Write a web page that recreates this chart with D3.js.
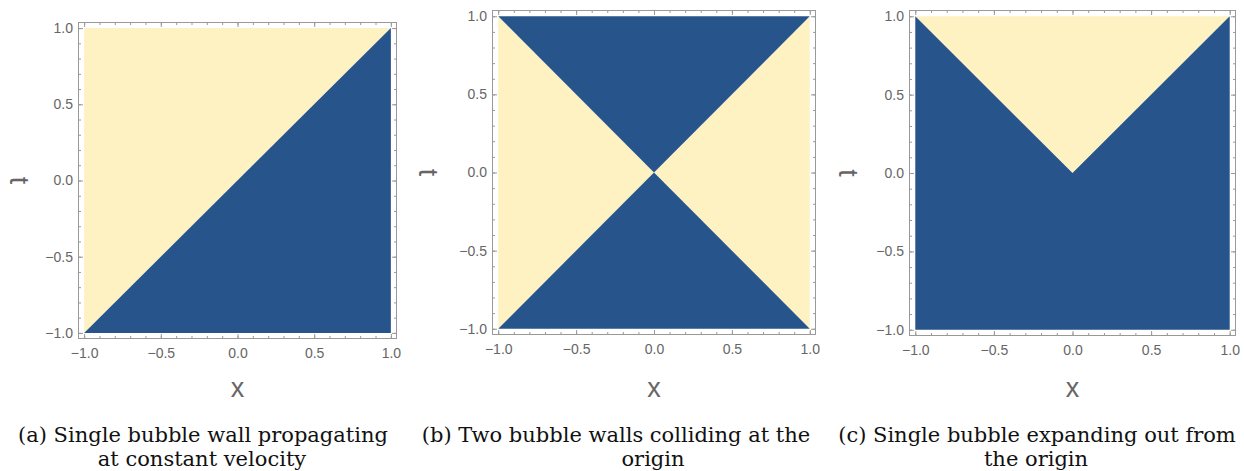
<!DOCTYPE html>
<html>
    <head>
        <meta charset="utf-8">
        <style>
            body { margin: 0; background: #fff; }
            svg { display: block; }
        </style>
    </head>
    <body>
        <svg></svg>

        <script src="https://cdnjs.cloudflare.com/ajax/libs/d3/7.8.5/d3.min.js"></script>
        <script>

            // values
            const majorTicks = [-1, -0.5, 0, 0.5, 1];
            const minorTicks = d3.range(-10, 11).map(d => d / 10);

            // regions in (x, t) coordinates, each tagged inside (blue) or outside (yellow)
            const regionsA = [
                { phase: 'out', pts: [[-1, -1], [-1, 1], [1, 1]] },
                { phase: 'in',  pts: [[-1, -1], [1, 1], [1, -1]] }
            ];
            const regionsB = [
                { phase: 'out', pts: [[-1, -1], [-1, 1], [0, 0]] },
                { phase: 'out', pts: [[1, 1], [1, -1], [0, 0]] },
                { phase: 'in',  pts: [[-1, 1], [1, 1], [0, 0]] },
                { phase: 'in',  pts: [[-1, -1], [1, -1], [0, 0]] }
            ];
            const regionsC = [
                { phase: 'out', pts: [[-1, 1], [1, 1], [0, 0]] },
                { phase: 'in',  pts: [[-1, 1], [0, 0], [1, 1], [1, -1], [-1, -1]] }
            ];

            const captionsA = ['(a) Single bubble wall propagating', 'at constant velocity'];
            const captionsB = ['(b) Two bubble walls colliding at the', 'origin'];
            const captionsC = ['(c) Single bubble expanding out from', 'the origin'];

            const width = 1244, height = 471;
            const colors = { out: '#fef2c2', in: '#27548a' };
            const frameColor = '#999';
            const labelColor = '#666';

            const svg = d3.select('svg').attr('width', width).attr('height', height);

            // frame boxes of each panel, plus where the captions sit
            const panels = [
                { regions: regionsA, captions: captionsA, left: 78,  right: 397,  top: 22, bottom: 339, tX: 19,  capX: [203, 202] },
                { regions: regionsB, captions: captionsB, left: 492, right: 816,  top: 10, bottom: 335, tX: 428, capX: [616, 653] },
                { regions: regionsC, captions: captionsC, left: 909, right: 1236, top: 10, bottom: 336, tX: 848, capX: [1037, 1036] }
            ];

            const fmt = d3.format('.1f');
            const pad = 1.04; // 2% plot range padding

            panels.forEach(drawPanel);

            function drawPanel(p) {
                const x = d3.scaleLinear().domain([-pad, pad]).range([p.left, p.right]);
                const y = d3.scaleLinear().domain([-pad, pad]).range([p.bottom, p.top]);
                const g = svg.append('g');

                const line = d3.line().x(d => x(d[0])).y(d => y(d[1]));
                g.selectAll('.region')
                    .data(p.regions)
                    .enter().append('path')
                    .attr('class', 'region')
                    .attr('d', d => line(d.pts) + 'Z')
                    .attr('fill', d => colors[d.phase]);

                // minor ticks on all four sides
                const minorStyle = sel => {
                    sel.select('.domain').remove();
                    sel.selectAll('line').attr('stroke', frameColor);
                };
                g.append('g').attr('transform', `translate(0,${p.bottom})`)
                    .call(d3.axisBottom(x).tickValues(minorTicks).tickSize(-3).tickSizeOuter(0).tickFormat(''))
                    .call(minorStyle);
                g.append('g').attr('transform', `translate(0,${p.top})`)
                    .call(d3.axisTop(x).tickValues(minorTicks).tickSize(-3).tickSizeOuter(0).tickFormat(''))
                    .call(minorStyle);
                g.append('g').attr('transform', `translate(${p.left},0)`)
                    .call(d3.axisLeft(y).tickValues(minorTicks).tickSize(-3).tickSizeOuter(0).tickFormat(''))
                    .call(minorStyle);
                g.append('g').attr('transform', `translate(${p.right},0)`)
                    .call(d3.axisRight(y).tickValues(minorTicks).tickSize(-3).tickSizeOuter(0).tickFormat(''))
                    .call(minorStyle);

                // major ticks
                const majorStyle = sel => {
                    sel.select('.domain').remove();
                    sel.selectAll('line').attr('stroke', frameColor);
                    sel.selectAll('text')
                        .attr('fill', labelColor)
                        .style('font-family', '"Liberation Sans", Arial, sans-serif')
                        .style('font-size', '14px');
                };
                g.append('g').attr('transform', `translate(0,${p.bottom})`)
                    .call(d3.axisBottom(x).tickValues(majorTicks).tickSize(-5).tickSizeOuter(0).tickPadding(9).tickFormat(fmt))
                    .call(majorStyle);
                g.append('g').attr('transform', `translate(0,${p.top})`)
                    .call(d3.axisTop(x).tickValues(majorTicks).tickSize(-5).tickSizeOuter(0).tickFormat(''))
                    .call(majorStyle);
                g.append('g').attr('transform', `translate(${p.left},0)`)
                    .call(d3.axisLeft(y).tickValues(majorTicks).tickSize(-5).tickSizeOuter(0).tickPadding(5).tickFormat(fmt))
                    .call(majorStyle);
                g.append('g').attr('transform', `translate(${p.right},0)`)
                    .call(d3.axisRight(y).tickValues(majorTicks).tickSize(-5).tickSizeOuter(0).tickFormat(''))
                    .call(majorStyle);

                g.append('rect')
                    .attr('x', p.left + 0.5).attr('y', p.top + 0.5)
                    .attr('width', p.right - p.left - 1).attr('height', p.bottom - p.top - 1)
                    .attr('fill', 'none')
                    .attr('stroke', frameColor);

                // axis labels
                g.append('text')
                    .attr('x', x(0)).attr('y', 397)
                    .attr('text-anchor', 'middle')
                    .attr('fill', labelColor)
                    .style('font-family', '"Liberation Sans", Arial, sans-serif')
                    .style('font-size', '27px')
                    .text('x');
                g.append('text')
                    .attr('transform', `translate(${p.tX},${y(0)}) rotate(90)`)
                    .attr('text-anchor', 'middle')
                    .attr('dy', '0.35em')
                    .attr('fill', labelColor)
                    .style('font-family', '"Liberation Sans", Arial, sans-serif')
                    .style('font-size', '27px')
                    .text('t');

                // caption
                g.selectAll('.cap')
                    .data(p.captions)
                    .enter().append('text')
                    .attr('class', 'cap')
                    .attr('x', (d, i) => p.capX[i])
                    .attr('y', (d, i) => 442 + i * 24)
                    .attr('text-anchor', 'middle')
                    .attr('fill', '#111')
                    .style('font-family', '"DejaVu Serif", serif')
                    .style('font-size', '21px')
                    .text(d => d);
            }
        </script>
    </body>
</html>
